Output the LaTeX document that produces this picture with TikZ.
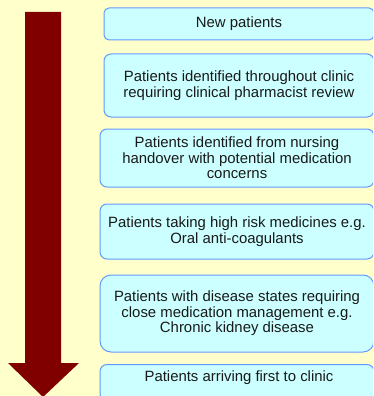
\documentclass[tikz,border=0pt]{standalone}
\usepackage{fontspec}
\setmainfont{Liberation Sans}
\definecolor{bgyellow}{HTML}{FFFFCC}
\definecolor{boxfill}{HTML}{CCFFFF}
\definecolor{boxline}{HTML}{6699FF}
\definecolor{arrowred}{HTML}{800000}
\begin{document}
\begin{tikzpicture}[x=1pt,y=-1pt,
  pbox/.style={draw=boxline, fill=boxfill, line width=1pt, rounded corners=7pt,
    align=center, inner sep=0pt, text=black!90,
    font=\fontsize{14.9}{15.5}\selectfont},
  bigarrow/.style={fill=arrowred, draw=none}]
\useasboundingbox (0,0) rectangle (373,396);
\fill[bgyellow] (0,0) rectangle (373,396);
\begin{scope}
\clip (0,0) rectangle (373,396);
\node[pbox, minimum width=270pt, minimum height=32pt, rounded corners=5pt] (b1) at (239,24) {New patients};
\node[pbox, minimum width=270pt, minimum height=63pt] (b2) at (239,85.5) {Patients identified throughout clinic\\requiring clinical pharmacist review};
\node[pbox, minimum width=274pt, minimum height=58pt] (b3) at (237,158) {Patients identified from nursing\\handover with potential medication\\concerns};
\node[pbox, minimum width=274pt, minimum height=55pt] (b4) at (237,231.5) {Patients taking high risk medicines e.g.\\Oral anti-coagulants};
\node[pbox, minimum width=274pt, minimum height=77pt, rounded corners=11pt] (b5) at (237,313.5) {Patients with disease states requiring\\close medication management e.g.\\Chronic kidney disease};
\node[pbox, minimum width=274pt, minimum height=36pt, anchor=north] (b6) at (237,364) {};
\node[font=\fontsize{14.9}{15.5}\selectfont, text=black!90] (t6) at (239,378) {Patients arriving first to clinic};
\end{scope}
\fill[bigarrow] (25,12) -- (61,12) -- (61,363) -- (79,363) -- (43,397) -- (8,363) -- (25,363) -- cycle;
\end{tikzpicture}
\end{document}
